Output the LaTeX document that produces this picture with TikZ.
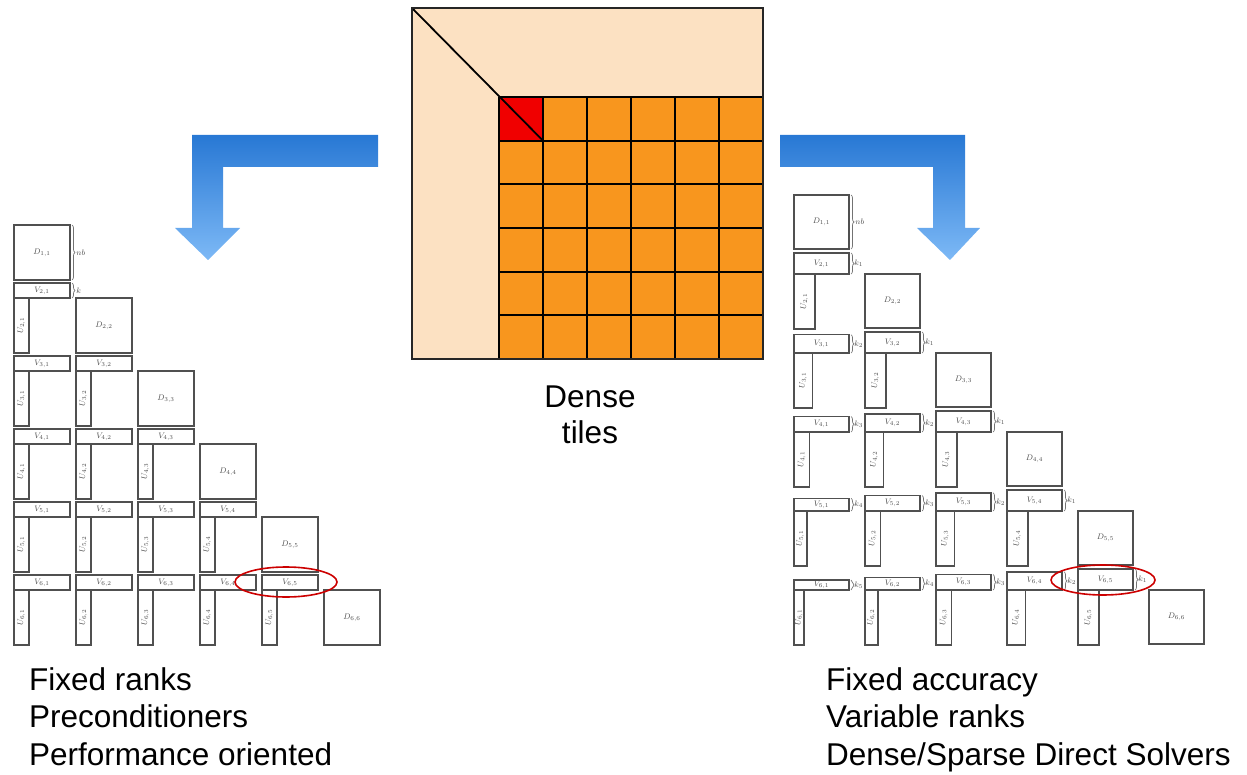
\documentclass[tikz,border=0pt]{standalone}
\usepackage{fontspec}
\setmainfont{Liberation Sans}
\usetikzlibrary{decorations.pathreplacing,shapes.geometric}
\definecolor{peach}{RGB}{252,225,194}
\definecolor{tileor}{RGB}{248,150,30}
\definecolor{tilered}{RGB}{240,0,0}
\definecolor{arrtop}{RGB}{40,120,212}
\definecolor{arrbot}{RGB}{125,185,246}
\definecolor{boxgray}{RGB}{80,80,80}
\begin{document}
\begin{tikzpicture}[x=1pt,y=-1pt,
  blk/.style={draw=boxgray, line width=1.5pt, inner sep=0pt, outer sep=0pt, anchor=north west,
              font=\fontsize{8}{9}\selectfont, text=black!70},
  brc/.style={decorate, decoration={brace, amplitude=3pt}, draw=black!55, line width=0.7pt},
  lbl/.style={font=\fontsize{8}{9}\selectfont, text=black!70, inner sep=1pt},
  big/.style={font=\fontsize{31.5}{37}\selectfont, anchor=base west, inner sep=0pt},
  bigc/.style={font=\fontsize{31.5}{37}\selectfont, anchor=base, inner sep=0pt},
  ring/.style={draw=red!80!black, ellipse, line width=1.6pt, inner sep=0pt},
  tileline/.style={draw=black, line width=1.8pt},
]
\useasboundingbox (0,0) rectangle (1247,775);

% ---------- central dense matrix ----------
\fill[peach] (412,8) rectangle (763,359);
\fill[tileor] (499,97) rectangle (763,359);
\fill[tilered] (499,97) rectangle (543,140.67);
\foreach \k in {0,...,6} {
  \draw[tileline] ({499+44*\k},97) -- ({499+44*\k},359);
  \draw[tileline] (499,{97+262/6*\k}) -- (763,{97+262/6*\k});
}
\draw[tileline] (412,8) -- (543,140.67);
\node[draw=black!85, line width=1.8pt, inner sep=0pt, outer sep=0pt, anchor=north west,
      minimum width=351pt, minimum height=351pt] (dense) at (412,8) {};
\node[bigc] (t1) at (590,407) {Dense};
\node[bigc] (t2) at (590,443) {tiles};

% ---------- arrows ----------
\shade[top color=arrtop, bottom color=arrbot]
  (378,135) -- (192,135) -- (192,228) -- (175,228) -- (208,260) -- (240,228) -- (223,228)
  -- (223,167) -- (378,167) -- cycle;
\shade[top color=arrtop, bottom color=arrbot]
  (780,135) -- (965,135) -- (965,228) -- (980,228) -- (950,260) -- (917,228) -- (933,228)
  -- (933,167) -- (780,167) -- cycle;

% ---------- left: fixed ranks ----------
\foreach \i in {1,...,6} {
  \node[blk, minimum width=56pt, minimum height=55pt] (DL\i) at ({14+62*(\i-1)},{152+73*\i}) {$D_{\i,\i}$};
}
\foreach \i in {2,...,6} {
  \pgfmathtruncatemacro{\im}{\i-1}
  \foreach \j in {1,...,\im} {
    \node[blk, minimum width=56pt, minimum height=15pt] (VL\i\j) at ({14+62*(\j-1)},{137+73*\i}) {$V_{\i,\j}$};
    \node[blk, minimum width=15pt, minimum height=55pt] (UL\i\j) at ({14+62*(\j-1)},{152+73*\i}) {\rotatebox{90}{$U_{\i,\j}$}};
  }
}
\draw[brc] ([xshift=2pt]DL1.north east) -- ([xshift=2pt]DL1.south east) node[lbl, midway, right=3pt] {$nb$};
\draw[brc] ([xshift=2pt]VL21.north east) -- ([xshift=2pt]VL21.south east) node[lbl, midway, right=3pt] {$k$};
\node[ring, minimum width=102pt, minimum height=30pt] (ringL) at (286,582) {};

% ---------- right: variable ranks ----------
\foreach \i in {1,...,6} {
  \node[blk, minimum width=55pt, minimum height=54pt] (DR\i) at ({794+71*(\i-1)},{116+79*\i}) {$D_{\i,\i}$};
}
\foreach \i in {2,...,6} {
  \pgfmathtruncatemacro{\im}{\i-1}
  \foreach \j in {1,...,\im} {
    \pgfmathtruncatemacro{\n}{\i-\j}
    \pgfmathsetmacro{\kk}{21-2.75*(\n-1)}
    \node[blk, minimum width=55pt, minimum height=\kk pt] (VR\i\j) at ({794+71*(\j-1)},{116+79*\i-\kk}) {$V_{\i,\j}$};
    \node[blk, minimum width=\kk pt, minimum height=55pt] (UR\i\j) at ({794+71*(\j-1)},{116+79*\i}) {\rotatebox{90}{$U_{\i,\j}$}};
    \draw[brc] ([xshift=2pt]VR\i\j.north east) -- ([xshift=2pt]VR\i\j.south east) node[lbl, midway, right=2pt] {$k_{\n}$};
  }
}
\draw[brc] ([xshift=2pt]DR1.north east) -- ([xshift=2pt]DR1.south east) node[lbl, midway, right=3pt] {$nb$};
\node[ring, minimum width=104pt, minimum height=30pt] (ringR) at (1103,580) {};

% ---------- captions ----------
\node[big] (a1) at (29,690) {Fixed ranks};
\node[big] (a2) at (29,727) {Preconditioners};
\node[big] (a3) at (29,765) {Performance oriented};
\node[big] (b1) at (826,690) {Fixed accuracy};
\node[big] (b2) at (826,727) {Variable ranks};
\node[big] (b3) at (826,765) {Dense/Sparse Direct Solvers};
\end{tikzpicture}
\end{document}
